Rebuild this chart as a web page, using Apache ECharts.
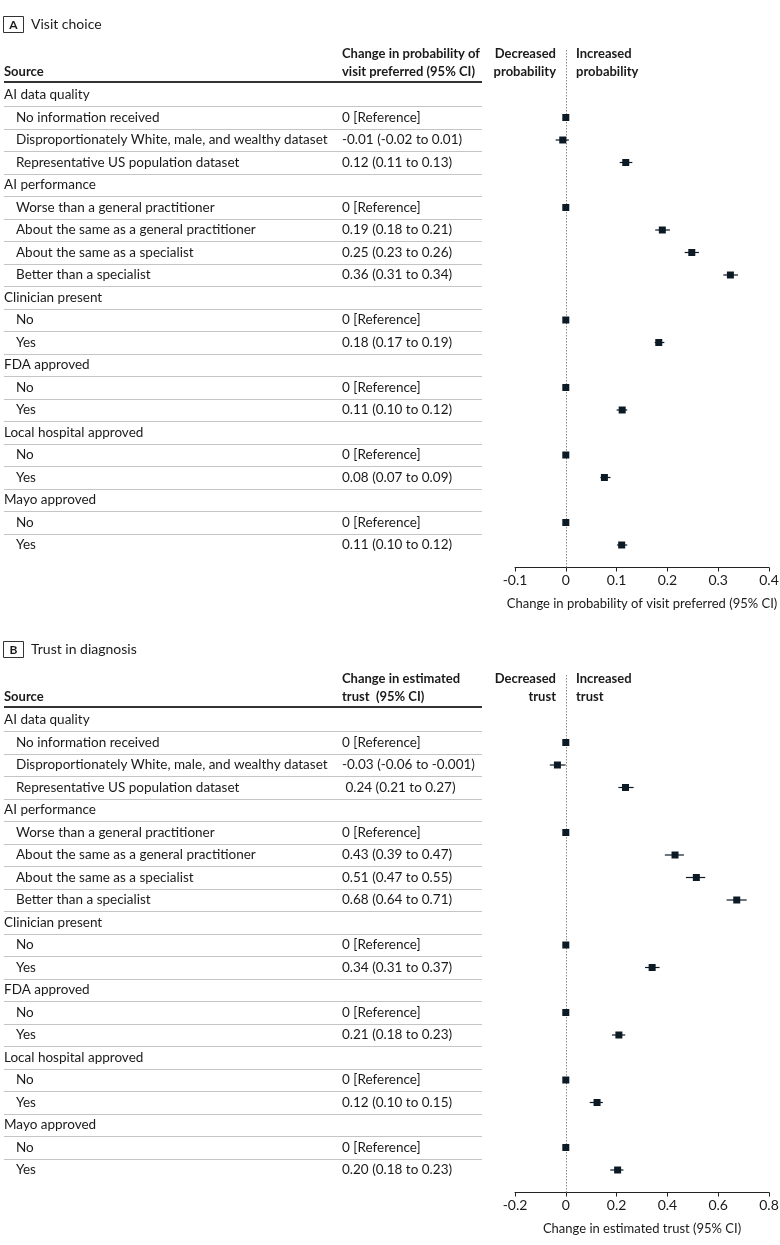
<!DOCTYPE html>
<html>
<head>
<meta charset="utf-8">
<title>Visit choice and trust in diagnosis</title>
<script src="https://cdn.jsdelivr.net/npm/echarts@6/dist/echarts.min.js"></script>
<style>
  html, body { margin: 0; padding: 0; background: #fff; }
  #chart { width: 780px; height: 1245px; }
</style>
</head>
<body>
<div id="chart"></div>
<script>
// rows of both tables (same order in panel A and B)
const sources = [
  'AI data quality', 'No information received', 'Disproportionately White, male, and wealthy dataset',
  'Representative US population dataset', 'AI performance', 'Worse than a general practitioner',
  'About the same as a general practitioner', 'About the same as a specialist', 'Better than a specialist',
  'Clinician present', 'No', 'Yes', 'FDA approved', 'No', 'Yes',
  'Local hospital approved', 'No', 'Yes', 'Mayo approved', 'No', 'Yes'
]
const isGroup = [1, 0, 0, 0, 1, 0, 0, 0, 0, 1, 0, 0, 1, 0, 0, 1, 0, 0, 1, 0, 0]

// panel A - visit choice
const estTextA = [
  '', '0 [Reference]', '-0.01 (-0.02 to 0.01)', '0.12 (0.11 to 0.13)',
  '', '0 [Reference]', '0.19 (0.18 to 0.21)', '0.25 (0.23 to 0.26)', '0.36 (0.31 to 0.34)',
  '', '0 [Reference]', '0.18 (0.17 to 0.19)', '', '0 [Reference]', '0.11 (0.10 to 0.12)',
  '', '0 [Reference]', '0.08 (0.07 to 0.09)', '', '0 [Reference]', '0.11 (0.10 to 0.12)'
]
const pointA = [null, 0, -0.006, 0.118, null, 0, 0.19, 0.248, 0.324, null, 0, 0.183, null, 0, 0.111, null, 0, 0.076, null, 0, 0.11]
const lowA = [null, null, -0.02, 0.106, null, null, 0.176, 0.234, 0.31, null, null, 0.175, null, null, 0.1, null, null, 0.068, null, null, 0.101]
const highA = [null, null, 0.006, 0.131, null, null, 0.205, 0.262, 0.339, null, null, 0.194, null, null, 0.121, null, null, 0.088, null, null, 0.121]
const ticksA = { min: -0.1, max: 0.4, interval: 0.1 }

// panel B - trust in diagnosis
const estTextB = [
  '', '0 [Reference]', '-0.03 (-0.06 to -0.001)', ' 0.24 (0.21 to 0.27)',
  '', '0 [Reference]', '0.43 (0.39 to 0.47)', '0.51 (0.47 to 0.55)', '0.68 (0.64 to 0.71)',
  '', '0 [Reference]', '0.34 (0.31 to 0.37)', '', '0 [Reference]', '0.21 (0.18 to 0.23)',
  '', '0 [Reference]', '0.12 (0.10 to 0.15)', '', '0 [Reference]', '0.20 (0.18 to 0.23)'
]
const pointB = [null, 0, -0.033, 0.235, null, 0, 0.43, 0.514, 0.673, null, 0, 0.34, null, 0, 0.209, null, 0, 0.123, null, 0, 0.204]
const lowB = [null, null, -0.063, 0.207, null, null, 0.39, 0.473, 0.633, null, null, 0.312, null, null, 0.182, null, null, 0.094, null, null, 0.175]
const highB = [null, null, -0.001, 0.267, null, null, 0.465, 0.549, 0.712, null, null, 0.369, null, null, 0.234, null, null, 0.146, null, null, 0.227]
const ticksB = { min: -0.2, max: 0.8, interval: 0.2 }

const FONT = 'Lato'
const TEXT = '#1a1a1a'
const MARK = '#0c1a26'
const BODY = '13.5px ' + FONT

const chart = echarts.init(document.getElementById('chart'), null, { renderer: 'canvas' })

const grid = []
const xAxis = []
const yAxis = []
const series = []
const graphic = []

function addPanel(off, letter, title, colHead, sideWord, estText, point, low, high, ticks, axisName) {
  const gTable = grid.length
  const gPlot = gTable + 1
  // y: row index, -2 leaves room for the header above row 0
  grid.push({ left: 4, width: 478, top: 50 + off, height: 517.5, outerBoundsMode: 'none' })
  grid.push({ left: 515, width: 254, top: 50 + off, height: 517.5, outerBoundsMode: 'none', containLabel: false })
  yAxis.push({ type: 'value', gridIndex: gTable, min: -2, max: 21, inverse: true, show: false })
  yAxis.push({ type: 'value', gridIndex: gPlot, min: -2, max: 21, inverse: true, show: false })
  xAxis.push({ type: 'value', gridIndex: gTable, min: 0, max: 1, show: false })
  xAxis.push({
    type: 'value', gridIndex: gPlot, min: ticks.min, max: ticks.max, interval: ticks.interval,
    name: axisName, nameLocation: 'middle', nameGap: 30,
    nameTextStyle: { fontFamily: FONT, fontSize: 13, color: TEXT },
    splitLine: { show: false },
    axisLine: { show: true, onZero: false, lineStyle: { color: '#222', width: 1 } },
    axisTick: { show: true, length: 4, lineStyle: { color: '#222' } },
    axisLabel: {
      fontFamily: FONT, fontSize: 14, color: TEXT, margin: 6,
      formatter: v => String(Math.round(v * 10) / 10)
    }
  })

  // table text + separators
  series.push({
    type: 'custom',
    xAxisIndex: gTable,
    yAxisIndex: gTable,
    silent: true,
    data: sources.map((s, i) => [0, i]),
    encode: { x: 0, y: 1 },
    renderItem: (params, api) => {
      const i = api.value(1)
      const y = api.coord([0, i])[1]
      const cs = params.coordSys
      const band = api.size([0, 1])[1]
      const kids = [
        { type: 'text', x: cs.x + (isGroup[i] ? 0 : 12), y: y,
          style: { text: sources[i], font: BODY, fill: TEXT, verticalAlign: 'middle' } },
        { type: 'text', x: cs.x + 338, y: y,
          style: { text: estText[i], font: BODY, fill: TEXT, verticalAlign: 'middle' } }
      ]
      if (i < sources.length - 1) {
        const ly = Math.round(y + band / 2) + 0.5
        kids.push({ type: 'line', shape: { x1: cs.x, y1: ly, x2: cs.x + cs.width, y2: ly },
          style: { stroke: '#c4c4c4', lineWidth: 1 } })
      }
      return { type: 'group', children: kids }
    }
  })

  // 95% CI whiskers
  series.push({
    type: 'custom',
    xAxisIndex: gPlot,
    yAxisIndex: gPlot,
    silent: true,
    data: low.map((l, i) => [l, high[i], i]).filter(d => d[0] !== null),
    encode: { x: [0, 1], y: 2 },
    renderItem: (params, api) => {
      const a = api.coord([api.value(0), api.value(2)])
      const b = api.coord([api.value(1), api.value(2)])
      return { type: 'line', shape: { x1: a[0], y1: a[1], x2: b[0], y2: b[1] },
        style: { stroke: MARK, lineWidth: 1.2 } }
    }
  })

  // point estimates + zero line
  series.push({
    type: 'scatter',
    xAxisIndex: gPlot,
    yAxisIndex: gPlot,
    symbol: 'rect',
    symbolSize: 7,
    itemStyle: { color: MARK, opacity: 1 },
    silent: true,
    z: 3,
    data: point.map((p, i) => [p, i]).filter(d => d[0] !== null),
    markLine: {
      silent: true,
      symbol: 'none',
      label: { show: false },
      lineStyle: { color: '#8a8a8a', type: [1.5, 1.5], width: 1 },
      data: [{ xAxis: 0 }],
      z: 1
    }
  })

  const t = (x, y, text, opt) => ({
    type: 'text', x: x, y: y, silent: true,
    style: Object.assign({ text: text, font: BODY, fill: TEXT, verticalAlign: 'middle' }, opt || {})
  })
  const bold = 'bold 13px ' + FONT
  graphic.push(
    { type: 'rect', silent: true, shape: { x: 3.5, y: 16.5 + off, width: 20, height: 16 },
      style: { fill: 'none', stroke: '#333', lineWidth: 1 } },
    t(13.5, 25 + off, letter, { font: 'bold 12px ' + FONT, align: 'center' }),
    t(31, 24 + off, title, { font: '14px ' + FONT }),
    t(4, 72 + off, 'Source', { font: bold }),
    t(342, 54 + off, colHead[0], { font: bold }),
    t(342, 72 + off, colHead[1], { font: bold }),
    t(556, 54 + off, 'Decreased', { font: bold, align: 'right' }),
    t(556, 72 + off, sideWord, { font: bold, align: 'right' }),
    t(576, 54 + off, 'Increased', { font: bold }),
    t(576, 72 + off, sideWord, { font: bold }),
    { type: 'line', silent: true, shape: { x1: 4, y1: 82 + off, x2: 482, y2: 82 + off },
      style: { stroke: '#333', lineWidth: 2 } }
  )
}

addPanel(0, 'A', 'Visit choice', ['Change in probability of', 'visit preferred (95% CI)'], 'probability',
  estTextA, pointA, lowA, highA, ticksA, 'Change in probability of visit preferred (95% CI)')
addPanel(625, 'B', 'Trust in diagnosis', ['Change in estimated', 'trust  (95% CI)'], 'trust',
  estTextB, pointB, lowB, highB, ticksB, 'Change in estimated trust (95% CI)')

chart.setOption({
  animation: false,
  backgroundColor: '#fff',
  grid: grid,
  xAxis: xAxis,
  yAxis: yAxis,
  series: series,
  graphic: graphic
})
</script>
</body>
</html>
